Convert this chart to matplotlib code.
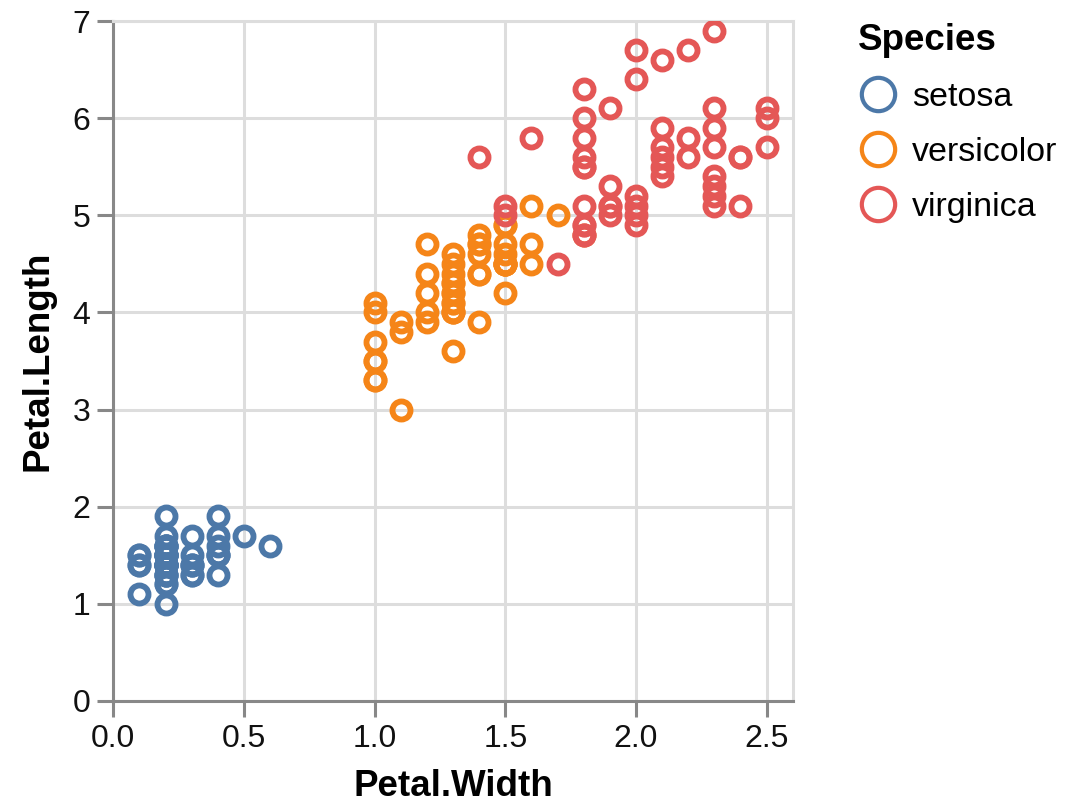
import matplotlib
matplotlib.use("Agg")
import matplotlib.pyplot as plt
from matplotlib.lines import Line2D

plt.rcParams['font.family'] = ['Liberation Sans', 'DejaVu Sans']

species = ["setosa", "versicolor", "virginica"]
colors = ["#4c78a8", "#f58518", "#e45756"]

setosa_width = [0.2,0.2,0.2,0.2,0.2,0.4,0.3,0.2,0.2,0.1,0.2,0.2,0.1,0.1,0.2,0.4,0.4,0.3,0.3,0.3,
                0.2,0.4,0.2,0.5,0.2,0.2,0.4,0.2,0.2,0.2,0.2,0.4,0.1,0.2,0.2,0.2,0.2,0.1,0.2,0.2,
                0.3,0.3,0.2,0.6,0.4,0.3,0.2,0.2,0.2,0.2]
setosa_length = [1.4,1.4,1.3,1.5,1.4,1.7,1.4,1.5,1.4,1.5,1.5,1.6,1.4,1.1,1.2,1.5,1.3,1.4,1.7,1.5,
                 1.7,1.5,1.0,1.7,1.9,1.6,1.6,1.5,1.4,1.6,1.6,1.5,1.5,1.4,1.5,1.2,1.3,1.4,1.3,1.5,
                 1.3,1.3,1.3,1.6,1.9,1.4,1.6,1.4,1.5,1.4]

versicolor_width = [1.4,1.5,1.5,1.3,1.5,1.3,1.6,1.0,1.3,1.4,1.0,1.5,1.0,1.4,1.3,1.4,1.5,1.0,1.5,1.1,
                    1.8,1.3,1.5,1.2,1.3,1.4,1.4,1.7,1.5,1.0,1.1,1.0,1.2,1.6,1.5,1.6,1.5,1.3,1.3,1.3,
                    1.2,1.4,1.2,1.0,1.3,1.2,1.3,1.3,1.1,1.3]
versicolor_length = [4.7,4.5,4.9,4.0,4.6,4.5,4.7,3.3,4.6,3.9,3.5,4.2,4.0,4.7,3.6,4.4,4.5,4.1,4.5,3.9,
                     4.8,4.0,4.9,4.7,4.3,4.4,4.8,5.0,4.5,3.5,3.8,3.7,3.9,5.1,4.5,4.5,4.7,4.4,4.1,4.0,
                     4.4,4.6,4.0,3.3,4.2,4.2,4.2,4.3,3.0,4.1]

virginica_width = [2.5,1.9,2.1,1.8,2.2,2.1,1.7,1.8,1.8,2.5,2.0,1.9,2.1,2.0,2.4,2.3,1.8,2.2,2.3,1.5,
                   2.3,2.0,2.0,1.8,2.1,1.8,1.8,1.8,2.1,1.6,1.9,2.0,2.2,1.5,1.4,2.3,2.4,1.8,1.8,2.1,
                   2.4,2.3,1.9,2.3,2.5,2.3,1.9,2.0,2.3,1.8]
virginica_length = [6.0,5.1,5.9,5.6,5.8,6.6,4.5,6.3,5.8,6.1,5.1,5.3,5.5,5.0,5.1,5.3,5.5,6.7,6.9,5.0,
                    5.7,4.9,6.7,4.9,5.7,6.0,4.8,4.9,5.6,5.8,6.1,6.4,5.6,5.1,5.6,6.1,5.6,5.5,4.8,5.4,
                    5.6,5.1,5.1,5.9,5.7,5.2,5.0,5.2,5.4,5.1]

widths = [setosa_width, versicolor_width, virginica_width]
lengths = [setosa_length, versicolor_length, virginica_length]

x_ticks = [0.0, 0.5, 1.0, 1.5, 2.0, 2.5]
y_ticks = [0, 1, 2, 3, 4, 5, 6, 7]

fig = plt.figure(figsize=(10.87, 8.06), dpi=100)
ax = fig.add_axes([0.1042, 0.1303, 0.6251, 0.8436])

for w, l, c in zip(widths, lengths, colors):
    ax.plot(w, l, linestyle='none', marker='o', markersize=13, markeredgewidth=4.2,
            markerfacecolor='none', markeredgecolor=c, zorder=3)

ax.set_xlim(0, 2.6)
ax.set_ylim(0, 7)
ax.set_xticks(x_ticks)
ax.set_xticklabels([f"{t:.1f}" for t in x_ticks])
ax.set_yticks(y_ticks)
ax.set_yticklabels([str(t) for t in y_ticks])

ax.grid(True, color='#dddddd', linewidth=2.2, zorder=0)
ax.set_axisbelow(True)
for s in ['top', 'right']:
    ax.spines[s].set_color('#dddddd')
    ax.spines[s].set_linewidth(2.2)
for s in ['left', 'bottom']:
    ax.spines[s].set_color('#888888')
    ax.spines[s].set_linewidth(2.2)
ax.tick_params(axis='both', length=11.5, width=2.2, color='#888888',
               labelsize=23, labelcolor='#111111', pad=5)

ax.set_xlabel("Petal.Width", fontsize=26.5, fontweight='bold', labelpad=11)
ax.set_ylabel("Petal.Length", fontsize=26.5, fontweight='bold', labelpad=12)

handles = [Line2D([], [], linestyle='none', marker='o', markersize=24, markeredgewidth=3,
                  markerfacecolor='none', markeredgecolor=c) for c in colors]
leg = fig.legend(handles, species, title="Species", loc='upper left',
                 bbox_to_anchor=(0.777, 0.988), frameon=False, fontsize=24.5,
                 title_fontproperties={'size': 26.5, 'weight': 'bold'},
                 alignment='left', handletextpad=0.42, labelspacing=0.7,
                 borderaxespad=0, handlelength=1.15)

fig.savefig("out.png", dpi=100)
